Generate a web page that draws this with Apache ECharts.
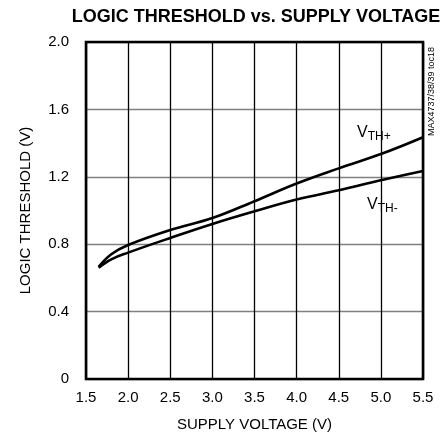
<!DOCTYPE html>
<html>
<head>
<meta charset="utf-8">
<script src="https://cdn.jsdelivr.net/npm/echarts@6/dist/echarts.min.js"></script>
<style>
  html, body { margin: 0; padding: 0; background: #fff; }
  #chart { width: 444px; height: 444px; }
</style>
</head>
<body>
<div id="chart"></div>
<script>
// supply voltage (V)
var supplyV = [1.65, 1.8, 2.0, 2.5, 3.0, 3.5, 4.0, 4.5, 5.0, 5.5];
// rising threshold VTH+
var vthPlus = [0.665, 0.74, 0.795, 0.884, 0.955, 1.055, 1.16, 1.25, 1.335, 1.435];
// falling threshold VTH-
var vthMinus = [0.66, 0.71, 0.75, 0.837, 0.92, 0.995, 1.065, 1.12, 1.18, 1.235];

var xTicks = [1.5, 2.0, 2.5, 3.0, 3.5, 4.0, 4.5, 5.0, 5.5];
var yTicks = [0, 0.4, 0.8, 1.2, 1.6, 2.0];

var font = "Liberation Sans, Arial, sans-serif";

var chart = echarts.init(document.getElementById("chart"));

function pairs(xs, ys) {
  return xs.map(function (x, i) { return [x, ys[i]]; });
}

var option = {
  animation: false,
  title: {
    text: "LOGIC THRESHOLD vs. SUPPLY VOLTAGE",
    left: 251,
    textAlign: "center",
    top: 3,
    textStyle: { fontFamily: font, fontWeight: "bold", fontSize: 18, color: "#000" }
  },
  grid: { left: 86, right: 21, top: 42, bottom: 65 },
  xAxis: {
    type: "value",
    min: 1.5, max: 5.5, interval: 0.5,
    name: "SUPPLY VOLTAGE (V)",
    nameLocation: "middle",
    nameGap: 38,
    nameTextStyle: { fontFamily: font, fontSize: 15, color: "#000" },
    axisLine: { show: true, lineStyle: { color: "#000", width: 2 } },
    axisTick: { show: false },
    axisLabel: {
      fontFamily: font, fontSize: 15, color: "#000", margin: 11,
      formatter: function (v) { return v.toFixed(1); }
    },
    splitLine: { show: true, lineStyle: { color: "#000", width: 1.3 } }
  },
  yAxis: {
    type: "value",
    min: 0, max: 2.0, interval: 0.4,
    name: "LOGIC THRESHOLD (V)",
    nameLocation: "middle",
    nameGap: 53,
    nameTextStyle: { fontFamily: font, fontSize: 15, color: "#000" },
    axisLine: { show: true, lineStyle: { color: "#000", width: 2 } },
    axisTick: { show: false },
    axisLabel: {
      fontFamily: font, fontSize: 15, color: "#000", margin: 17,
      formatter: function (v) { return v === 0 ? "0" : v.toFixed(1); }
    },
    splitLine: { show: true, lineStyle: { color: "#808080", width: 1.3 } }
  },
  series: [
    {
      name: "VTH+",
      type: "line",
      smooth: 0.4,
      symbol: "none",
      lineStyle: { color: "#000", width: 2.6 },
      data: pairs(supplyV, vthPlus)
    },
    {
      name: "VTH-",
      type: "line",
      smooth: 0.4,
      symbol: "none",
      lineStyle: { color: "#000", width: 2.6 },
      data: pairs(supplyV, vthMinus)
    }
  ],
  graphic: [
    {
      type: "rect",
      shape: { x: 86, y: 42, width: 337, height: 337 },
      style: { fill: "none", stroke: "#000", lineWidth: 2.6 },
      z: 100
    },
    {
      type: "text",
      x: 357, y: 122,
      style: {
        text: "{a|V}{b|TH+}",
        rich: {
          a: { fontFamily: font, fontSize: 16, fill: "#000" },
          b: { fontFamily: font, fontSize: 12, fill: "#000", padding: [9, 0, 0, 0] }
        }
      }
    },
    {
      type: "text",
      x: 367, y: 194,
      style: {
        text: "{a|V}{b|TH-}",
        rich: {
          a: { fontFamily: font, fontSize: 16, fill: "#000" },
          b: { fontFamily: font, fontSize: 12, fill: "#000", padding: [9, 0, 0, 0] }
        }
      }
    },
    {
      type: "text",
      x: 427, y: 136,
      rotation: Math.PI / 2,
      style: {
        text: "MAX4737/38/39 toc18",
        fontFamily: font, fontSize: 9, fill: "#000"
      }
    }
  ]
};

chart.setOption(option);
</script>
</body>
</html>
